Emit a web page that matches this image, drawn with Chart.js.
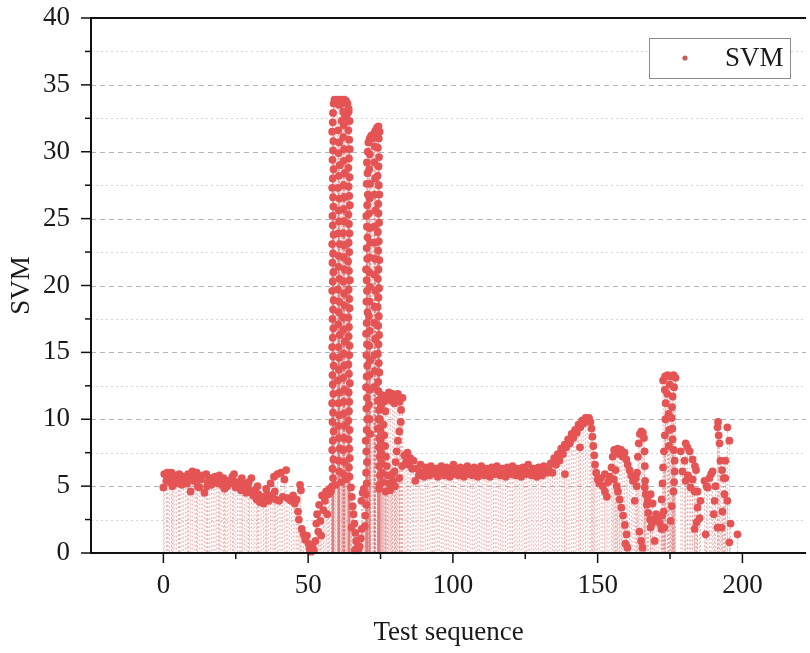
<!DOCTYPE html>
<html>
<head>
<meta charset="utf-8">
<title>SVM - Test sequence</title>
<script src="https://cdn.jsdelivr.net/npm/chart.js@4.4.0/dist/chart.umd.min.js"></script>
<style>
  html, body { margin: 0; padding: 0; background: #fff; }
  #chart { display: block; }
</style>
</head>
<body>
<canvas id="chart" width="810" height="653"></canvas>
<script>
// axis ticks
const X_TICKS = [0, 50, 100, 150, 200];
const X_MINOR = [25, 75, 125, 175];
const Y_TICKS = [0, 5, 10, 15, 20, 25, 30, 35, 40];
const Y_MINOR = [2.5, 7.5, 12.5, 17.5, 22.5, 27.5, 32.5, 37.5];

// SVM samples, [test sequence, SVM]
const baseline = [
    [0,4.9],[0.3,5.9],[1,5.4],[1.3,6.0],[1.6,5.7],[2.2,5.3],[2.8,6.0],[3.1,5.0],[3.4,5.5],[4,5.8],
    [4.6,5.2],[5.2,5.6],[5.5,5.9],[5.8,5.3],[6.4,5.1],[7,5.7],[7.6,5.5],[8.2,5.2],[8.5,5.9],[8.8,5.6],
    [9.4,4.6],[10,6.1],[10.6,5.4],[11.2,5.7],[11.5,6.0],[11.8,5.0],[12.4,4.9],[13,5.5],[13.6,5.8],[14.2,4.5],
    [14.8,5.9],[15.1,5.0],[15.4,5.3],[16,5.6],[16.6,5.1],[17.2,5.4],[17.8,5.7],[18.4,5.5],[19,5.2],[19.3,5.8],
    [19.6,5.4],[20.2,5.1],[20.8,5.6],[21.1,4.8],[21.4,5.3],[22,5.0],[22.6,5.4],[23.2,5.2],[23.8,5.7],[24.1,5.4],
    [24.4,5.9],[25,4.9],[25.6,5.3],[26.2,5.0],[26.8,4.7],[27.1,5.6],[27.4,5.2],[28,4.9],[28.6,4.5],[29.2,5.0],
    [29.5,5.3],[29.8,4.6],[30.4,5.6],[31,4.3],[31.6,4.7],[32.2,4.0],[32.5,5.0],[32.8,4.4],[33.4,3.8],[34,4.2],
    [34.6,3.7],[35.2,4.1],[35.5,4.8],[35.8,4.4],[36.4,3.9],[37,5.2],[37.6,4.3],[38.2,5.7],[38.5,4.6],[38.8,4.0],
    [39.4,5.9],[40,3.9],[40.6,6.0],[41.2,4.2],[41.8,5.5],[42.4,6.2],[43,4.1],[43.6,4.0],[44.2,3.9],[44.8,4.3],
    [45.4,3.7],[46,4.0]
];

const dip = [
    [46.5,3.1],[46.8,2.5],[47.2,5.1],[47.5,4.7],[47.8,1.8],[48.4,1.4],[49,1.0],[49.6,1.3],[50.1,0.7],[50.5,0.3],
    [51,0.1],[51.5,0.5],[52,0.2],[52.5,0.9],[52.8,2.2],[53.1,2.9],[53.5,1.6],[53.8,3.6],[54.2,2.4],[54.5,1.3],
    [54.8,4.3],[55.3,3.2],[55.8,3.9],[56.2,4.6],[56.6,2.9],[57,4.4],[57.4,4.8],[57.9,4.6],[58.3,5.0],[59.5,5.1],
    [61.5,5.3],[63.0,5.5]
];

const spikeOne = [
    // left edge going up
    [58.6,5.6],[58.4,6.3],[58.7,7.0],[58.3,7.7],[58.5,8.4],[58.8,9.1],[58.4,9.8],[58.6,10.5],[58.3,11.2],[58.7,11.9],
    [58.5,12.6],[58.4,13.3],[58.8,14.0],[58.6,14.7],[58.3,15.4],[58.5,16.1],[58.7,16.8],[58.4,17.5],[58.6,18.2],[58.8,18.9],
    [58.3,19.6],[58.5,20.3],[58.7,21.0],[58.4,21.7],[58.6,22.4],[58.3,23.1],[58.8,23.8],[58.5,24.5],[58.4,25.2],[58.7,25.9],
    [58.6,26.6],[58.3,27.3],[58.5,28.0],[58.8,28.7],[58.4,29.4],[58.6,30.1],[58.7,30.8],[58.3,31.5],[58.5,32.2],[58.6,32.9],
    [58.8,33.6],
    // top
    [59.1,33.9],[59.6,33.7],[60.1,33.9],[60.7,33.5],[61.3,33.9],[61.9,33.6],[62.5,33.9],[63.1,33.8],[63.6,33.6],[64.0,33.2],
    [63.4,32.8],[62.7,32.6],[62.1,33.0],[61.6,32.3],
    // inner columns
    [60.4,31.6],[60.7,30.7],[60.5,29.9],[60.9,29.0],[60.6,28.2],[60.3,27.3],[60.8,26.5],[60.5,25.6],[60.7,24.8],[60.4,23.9],
    [60.9,23.1],[60.6,22.2],[60.5,21.4],[60.8,20.5],[60.3,19.7],[60.7,18.8],[60.6,18.0],[60.4,17.1],[60.9,16.3],[60.5,15.4],
    [60.7,14.6],[60.6,13.7],[60.3,12.9],[60.8,12.0],[60.5,11.2],[60.7,10.3],[60.4,9.5],[60.6,8.6],[60.9,7.8],[60.5,6.9],
    [60.7,6.1],
    [62.2,5.9],[62.5,6.8],[62.1,7.7],[62.4,8.6],[62.6,9.5],[62.2,10.4],[62.3,11.3],[62.5,12.2],[62.1,13.1],[62.4,14.0],
    [62.2,14.9],[62.6,15.8],[62.3,16.7],[62.1,17.6],[62.5,18.5],[62.4,19.4],[62.2,20.3],[62.6,21.2],[62.3,22.1],[62.5,23.0],
    [62.1,23.9],[62.4,24.8],[62.2,25.7],[62.5,26.6],[62.3,27.5],[62.6,28.4],[62.2,29.3],[62.4,30.2],[62.1,31.1],[62.3,32.0],
    // right edge coming down
    [64.0,33.0],[64.3,32.3],[63.9,31.6],[64.2,30.9],[64.4,30.2],[64.1,29.5],[63.9,28.8],[64.3,28.1],[64.0,27.4],[64.2,26.7],
    [64.4,26.0],[63.9,25.3],[64.1,24.6],[64.3,23.9],[64.0,23.2],[64.2,22.5],[63.8,21.8],[64.1,21.1],[64.4,20.4],[64.0,19.7],
    [64.2,19.0],[64.3,18.3],[63.9,17.6],[64.1,16.9],[64.0,16.2],[64.3,15.5],[64.2,14.8],[63.9,14.1],[64.1,13.4],[64.4,12.7],
    [64.0,12.0],[64.2,11.3],[64.1,10.6],[63.9,9.9],[64.3,9.2],[64.0,8.5],[64.2,7.8],[64.4,7.1],[64.1,6.4],[64.3,5.7],
    // tail down to zero
    [64.8,4.9],[65.1,4.2],[65.4,3.5],[65.0,1.9],[65.7,2.9],[66.0,2.2],[66.3,1.5],[66.1,0.2],[66.6,0.9],[66.9,0.4],
    [67.3,0.2],[67.8,0.5],[68.2,1.1],[68.5,1.8],[68.4,3.9],[68.8,4.5],[69.2,4.8]
];

const spikeTwo = [
    [69.6,2.0],[69.7,2.8],[70.1,3.6],[69.9,4.4],[70.2,5.2],[70.0,6.0],[70.3,6.8],[70.1,7.6],[69.9,8.4],[70.2,9.2],
    [70.4,10.0],[70.1,10.8],[70.3,11.6],[70.0,12.4],[70.2,13.2],[70.4,14.0],[70.1,14.8],[70.3,15.6],[70.0,16.4],[70.2,17.2],
    [70.5,18.0],[70.1,18.8],[70.3,19.6],[70.2,20.4],[70.0,21.2],[70.4,22.0],[70.2,22.8],[70.5,23.6],[70.3,24.4],[70.1,25.2],
    [70.4,26.0],[70.6,26.8],[70.2,27.6],[70.5,28.4],[70.3,29.2],[70.6,30.0],[70.8,30.7],
    [71.3,31.0],[71.8,31.2],[72.3,31.0],[72.8,31.4],[73.3,31.6],[73.8,31.8],[74.3,31.9],[74.7,31.5],
    [71.3,29.8],[71.1,28.7],[71.4,27.6],[71.2,26.5],[71.0,25.4],[71.3,24.3],[71.5,23.2],[71.2,22.1],[71.1,21.0],[71.4,19.9],
    [71.2,18.8],[71.0,17.7],[71.3,16.6],[71.1,15.5],[71.4,14.4],[71.2,13.3],[71.3,12.2],[71.0,11.1],[71.2,10.0],[71.4,8.9],
    [73.0,30.4],[72.8,29.2],[73.1,28.0],[72.9,26.8],[73.2,25.6],[72.8,24.4],[73.0,23.2],[73.1,22.0],[72.9,20.8],[73.2,19.6],
    [73.0,18.4],[72.8,17.2],[73.1,16.0],[72.9,14.8],[73.0,13.6],[72.8,12.4],
    [74.4,31.0],[74.1,30.3],[74.5,29.6],[74.3,28.9],[74.0,28.2],[74.4,27.5],[74.6,26.8],[74.2,26.1],[74.3,25.4],[74.5,24.7],
    [74.1,24.0],[74.4,23.3],[74.2,22.6],[74.6,21.9],[74.3,21.2],[74.1,20.5],[74.5,19.8],[74.3,19.1],[74.0,18.4],[74.4,17.7],
    [74.2,17.0],[74.5,16.3],[74.3,15.6],[74.1,14.9],[74.4,14.2],[74.6,13.5],[74.2,12.8],[74.3,12.1],[74.1,11.4],[74.5,10.7],
    [74.3,10.0],[74.0,9.3],[74.6,8.6],[74.4,7.9],[74.7,7.2],[74.5,6.5],[74.8,5.8],[74.6,5.1]
];

const cluster = [
    [75.2,11.0],[75.6,11.8],[76.2,11.3],[76.7,10.6],[77.3,11.5],[77.9,12.0],[78.5,11.4],[79.2,11.9],[79.8,11.2],[80.4,11.7],
    [81.0,11.9],[81.6,11.3],[82.1,10.7],[82.6,11.6],[82.0,9.8],[81.5,9.1],[81.0,8.4],[80.6,7.6],[80.2,6.8],[79.8,6.1],
    [79.3,5.4],[78.8,4.9],[76.0,9.6],[76.3,8.8],[76.6,8.0],[76.9,7.2],[77.2,6.5],[77.5,5.8],[77.9,5.2],[78.3,4.7],
    [74.8,10.0],[75.0,9.2],[75.0,8.4],[75.2,7.5],[75.4,6.7],[75.6,6.0],[75.8,5.3],[74.5,4.8],[76.8,4.6],[79.0,5.9],
    [80.0,5.0],[81.5,5.6],[82.5,6.5],[83.2,7.3],[83.8,6.8],[84.3,7.5],[84.8,6.6],[85.3,7.1],[85.9,6.3],[86.4,6.9]
];

const plateau = [
    [87.0,5.4],[87.6,6.3],[88.2,5.8],[88.8,6.6],[89.4,6.0],[90.0,5.7],[90.6,6.4],[91.2,6.1],[91.8,5.8],[92.4,6.5],
    [93.0,6.2],[93.6,5.9],[94.2,6.3],[94.8,5.7],[95.4,6.0],[96.0,6.5],[96.6,6.2],[97.2,5.8],[97.8,6.4],[98.4,6.1],
    [99.0,5.7],[99.6,6.3],[100.2,6.6],[100.8,5.9],[101.4,6.2],[102.0,5.8],[102.6,6.4],[103.2,6.0],[103.8,5.7],[104.4,6.3],
    [105.0,6.5],[105.6,5.9],[106.2,6.1],[106.8,5.8],[107.4,6.4],[108.0,6.2],[108.6,5.7],[109.2,6.0],[109.8,6.5],[110.4,6.1],
    [111.0,5.8],[111.6,6.3],[112.2,6.0],[112.8,5.7],[113.4,6.4],[114.0,6.2],[114.6,5.9],[115.2,6.5],[115.8,6.1],[116.4,5.8],
    [117.0,6.3],[117.6,6.0],[118.2,5.7],[118.8,6.4],[119.4,6.2],[120.0,5.9],[120.6,6.5],[121.2,6.0],[121.8,5.8],[122.4,6.3],
    [123.0,6.1],[123.6,5.7],[124.2,6.4],[124.8,6.2],[125.4,5.9],[126.0,6.6],[126.6,6.0],[127.2,5.8],[127.8,6.3],[128.4,6.1],
    [129.0,5.7],[129.6,6.4],[130.2,6.0],[130.8,5.8],[131.4,6.5],[132.0,6.2],[132.6,6.0]
];

const hump = [
    [133.2,6.2],[133.8,6.7],[134.4,6.0],[135.0,7.1],[135.6,6.6],[136.2,7.4],[136.8,6.9],[137.4,7.8],[138.0,7.4],[138.6,8.1],
    [138.7,5.9],[139.2,7.9],[139.8,8.5],[140.4,8.2],[141.0,8.9],[141.6,8.6],[142.2,9.2],[142.8,9.0],[143.4,9.6],[143.9,7.9],
    [144.0,9.4],[144.6,9.9],[145.2,9.7],[145.8,10.1],[146.4,9.9],[147.0,10.1],[147.5,9.8],[147.9,9.3],[148.2,8.7],[148.5,8.0],
    [148.8,7.3],[149.1,6.6],[149.5,6.0],[150.0,5.5],[150.6,5.2],[151.2,5.6],[151.8,5.0],[152.5,4.6],[152.5,5.9],[153.2,4.2],
    [153.6,5.3],[154.2,5.7],[154.8,6.4],[155.2,7.2],[155.7,7.7],[156.3,7.5],[156.9,7.8],[157.5,7.4],[158.1,7.7],[158.7,7.2],
    [159.3,7.5],[159.9,7.0],[160.4,6.6],[161.0,6.2],[161.6,5.8],[162.2,5.4],[157.0,4.6],[157.6,4.0],[158.2,3.4],[158.8,2.8],
    [159.4,2.1],[160.0,1.4],[159.6,0.7],[160.3,0.4],[156.2,6.2],[155.6,5.5],[156.6,5.0],[162.8,3.9],[163.5,5.0]
];

const secondPeak = [
    [163.6,6.0],[163.9,7.2],[164.2,8.2],[164.6,8.9],[165.1,9.1],[165.6,9.0],[166.0,8.6],[166.2,7.6],[166.3,6.5],[166.4,5.4],
    [166.6,4.4],[167.0,3.6],[167.5,3.0],[168.1,2.5],[168.8,2.2],[169.5,2.5],[170.2,2.9],[170.9,2.6],[171.5,2.2],[172.0,1.8],
    [164.4,1.6],[165.0,0.9],[165.5,0.4],[163.2,5.6],[166.3,4.9],[167.3,3.9],[168.3,4.4],[169.0,3.7],[168.3,1.9],[169.7,0.9]
];

const thirdPeak = [
    [172.3,2.8],[172.1,4.0],[172.4,5.2],[172.6,6.4],[172.9,7.6],[173.2,8.8],[173.4,10.0],[173.5,11.2],[173.2,12.2],[172.6,12.9],
    [173.3,13.2],[174.2,13.3],[175.2,13.2],[176.2,13.3],[176.9,13.1],[176.4,12.4],[175.9,11.7],[175.7,10.9],[175.6,10.1],[175.8,9.3],
    [175.9,8.5],[176.3,7.7],[176.6,6.9],[176.6,6.1],[176.4,5.3],[176.2,4.6],[175.6,3.5],[175.2,2.4],[174.5,10.4],[174.7,9.2],
    [174.6,8.0],[173.1,1.9],[172.8,3.1],[174.9,12.6],[174.0,11.9]
];

const ending = [
    [178.7,7.6],[179.3,6.1],[180.0,6.9],[180.4,8.2],[181.0,7.9],[181.8,7.6],[182.8,7.0],[183.6,6.5],[180.4,5.4],[181.2,5.8],
    [182.1,4.9],[182.8,5.5],[183.5,4.6],[184.5,4.6],[184.0,6.2],[185.5,3.9],[184.5,3.4],[185.2,2.6],[183.5,1.8],[184.2,2.3],
    [187.3,1.4],[186.9,5.4],[187.6,5.0],[188.0,4.9],[188.6,5.6],[189.2,5.9],[189.7,6.1],[190.7,5.0],[190.4,3.9],[190.1,2.9],
    [191.4,9.4],[191.6,9.8],[191.8,8.8],[192.1,8.2],[192.4,6.9],[193.0,6.2],[193.5,5.6],[193.8,4.4],[193.1,3.1],[192.8,1.9],
    [194.8,9.4],[195.5,8.4],[194.1,6.9],[194.1,5.6],[194.8,3.9],[195.9,2.2],[195.5,0.8],[198.3,1.4],[191.4,1.9]
];

const POINT_COLOR = 'rgb(229, 84, 84)';
const DROP_COLOR = 'rgba(222, 130, 130, 0.6)';
const SERIF = "'Liberation Serif', 'Times New Roman', serif";

const points = [baseline, dip, spikeOne, spikeTwo, cluster, plateau, hump, secondPeak, thirdPeak, ending]
    .flat()
    .map(([x, y]) => ({ x, y }));

// grid lines, drop lines, frame and tick marks
const framePlugin = {
    id: 'frame',
    beforeDatasetsDraw(chart) {
        const { ctx, chartArea: a, scales: { x, y } } = chart;
        ctx.save();
        ctx.lineWidth = 1;

        ctx.strokeStyle = '#d6d6d6';
        ctx.setLineDash([2, 3]);
        Y_MINOR.forEach(v => {
            const py = Math.round(y.getPixelForValue(v)) + 0.5;
            ctx.beginPath(); ctx.moveTo(a.left, py); ctx.lineTo(a.right, py); ctx.stroke();
        });

        ctx.strokeStyle = '#b4b4b4';
        ctx.setLineDash([5, 4]);
        Y_TICKS.slice(1, -1).forEach(v => {
            const py = Math.round(y.getPixelForValue(v)) + 0.5;
            ctx.beginPath(); ctx.moveTo(a.left, py); ctx.lineTo(a.right, py); ctx.stroke();
        });

        // drop lines from every point to zero
        const base = y.getPixelForValue(0);
        ctx.strokeStyle = DROP_COLOR;
        ctx.setLineDash([2, 2]);
        chart.data.datasets[0].data.forEach(p => {
            const px = x.getPixelForValue(p.x);
            ctx.beginPath(); ctx.moveTo(px, y.getPixelForValue(p.y)); ctx.lineTo(px, base); ctx.stroke();
        });
        ctx.restore();
    },
    afterDatasetsDraw(chart) {
        const { ctx, chartArea: a, scales: { x, y } } = chart;
        ctx.save();
        ctx.strokeStyle = '#111';
        ctx.lineWidth = 2;
        ctx.beginPath();
        ctx.moveTo(a.right, a.top); ctx.lineTo(a.left, a.top);
        ctx.lineTo(a.left, a.bottom); ctx.lineTo(a.right, a.bottom);
        ctx.stroke();

        ctx.lineWidth = 1.5;
        const tick = (x1, y1, x2, y2) => { ctx.beginPath(); ctx.moveTo(x1, y1); ctx.lineTo(x2, y2); ctx.stroke(); };
        Y_TICKS.forEach(v => { const py = y.getPixelForValue(v); tick(a.left - 10, py, a.left, py); });
        Y_MINOR.forEach(v => { const py = y.getPixelForValue(v); tick(a.left - 6, py, a.left, py); });
        X_TICKS.forEach(v => { const px = x.getPixelForValue(v); tick(px, a.bottom, px, a.bottom + 10); });
        X_MINOR.forEach(v => { const px = x.getPixelForValue(v); tick(px, a.bottom, px, a.bottom + 6); });
        ctx.restore();
    },
    afterDraw(chart) {
        // legend box inside the plot, top right
        const { ctx } = chart;
        const ds = chart.data.datasets[0];
        ctx.save();
        ctx.fillStyle = '#fff';
        ctx.fillRect(649.5, 38.5, 141, 40);
        ctx.strokeStyle = '#8a8a8a';
        ctx.lineWidth = 1;
        ctx.strokeRect(649.5, 38.5, 141, 40);
        ctx.fillStyle = 'rgb(200, 90, 90)';
        ctx.beginPath(); ctx.arc(685, 58, 2.6, 0, Math.PI * 2); ctx.fill();
        ctx.fillStyle = '#1a1a1a';
        ctx.font = '27px ' + SERIF;
        ctx.textBaseline = 'middle';
        ctx.fillText(ds.label, 725, 59);
        ctx.restore();
    }
};

new Chart(document.getElementById('chart'), {
    type: 'scatter',
    data: {
        datasets: [{
            label: 'SVM',
            data: points,
            backgroundColor: POINT_COLOR,
            borderWidth: 0,
            pointRadius: 3.9,
            pointHoverRadius: 3.9,
            clip: false
        }]
    },
    options: {
        responsive: false,
        animation: false,
        events: [],
        layout: { padding: 0 },
        plugins: {
            legend: { display: false },
            tooltip: { enabled: false }
        },
        scales: {
            x: {
                type: 'linear',
                min: -25,
                max: 222,
                afterBuildTicks: scale => { scale.ticks = X_TICKS.map(v => ({ value: v })); },
                afterFit: scale => { scale.height = 100; scale.paddingLeft = 0; scale.paddingRight = 0; },
                grid: { display: false, drawTicks: false },
                border: { display: false },
                ticks: { padding: 17, color: '#1a1a1a', maxRotation: 0, font: { family: SERIF, size: 27 } },
                title: {
                    display: true,
                    text: 'Test sequence',
                    color: '#1a1a1a',
                    font: { family: SERIF, size: 27 },
                    padding: { top: 0, bottom: 4 }
                }
            },
            y: {
                min: 0,
                max: 40,
                afterBuildTicks: scale => { scale.ticks = Y_TICKS.map(v => ({ value: v })); },
                afterFit: scale => { scale.width = 91; scale.paddingTop = 18; scale.paddingBottom = 0; },
                grid: { display: false, drawTicks: false },
                border: { display: false },
                ticks: { padding: 21, color: '#1a1a1a', font: { family: SERIF, size: 27 } },
                title: {
                    display: true,
                    text: 'SVM',
                    color: '#1a1a1a',
                    font: { family: SERIF, size: 27 },
                    padding: { top: 6, bottom: 0 }
                }
            }
        }
    },
    plugins: [framePlugin]
});
</script>
</body>
</html>
